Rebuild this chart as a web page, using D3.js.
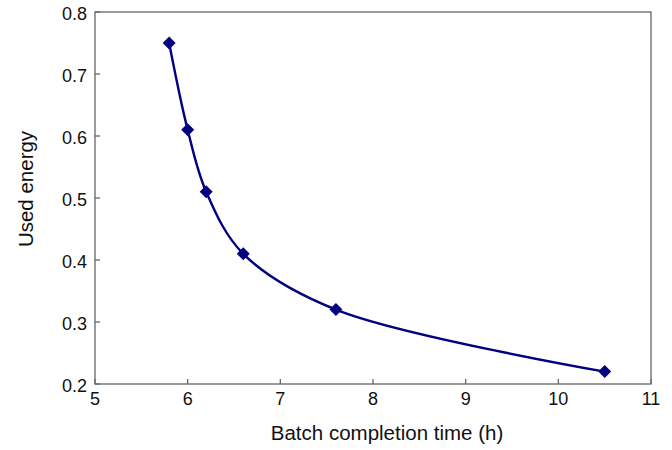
<!DOCTYPE html>
<html>
<head>
<meta charset="utf-8">
<script src="https://cdn.jsdelivr.net/npm/d3@7"></script>
<style>
  body { margin: 0; background: #fff; }
  text { font-family: "Liberation Sans", Arial, sans-serif; fill: #111; }
</style>
</head>
<body>
<svg width="672" height="450"></svg>
<script>
// data
var batchTime = [5.8, 6.0, 6.2, 6.6, 7.6, 10.5];
var usedEnergy = [0.75, 0.61, 0.51, 0.41, 0.32, 0.22];
var xTicks = [5, 6, 7, 8, 9, 10, 11];
var yTicks = [0.2, 0.3, 0.4, 0.5, 0.6, 0.7, 0.8];

var svg = d3.select("svg");
var plotL = 95, plotR = 651, plotT = 12, plotB = 384;
var axisColor = "#666";
var lineColor = "#000080";

var x = d3.scaleLinear().domain([5, 11]).range([plotL, plotR]);
var y = d3.scaleLinear().domain([0.2, 0.8]).range([plotB, plotT]);

var points = batchTime.map(function(d, i) { return [d, usedEnergy[i]]; });

// frame
svg.append("rect")
    .attr("x", plotL).attr("y", plotT)
    .attr("width", plotR - plotL).attr("height", plotB - plotT)
    .attr("fill", "none").attr("stroke", axisColor).attr("stroke-width", 1.3);

// x ticks (inward) + labels
svg.selectAll(".xt").data(xTicks).enter().append("line")
    .attr("x1", function(d) { return x(d); }).attr("x2", function(d) { return x(d); })
    .attr("y1", plotB).attr("y2", plotB - 5)
    .attr("stroke", axisColor).attr("stroke-width", 1.3);
svg.selectAll(".xl").data(xTicks).enter().append("text")
    .attr("x", function(d) { return x(d); })
    .attr("y", plotB + 21)
    .attr("text-anchor", "middle")
    .style("font-size", "18px")
    .text(function(d) { return d; });

// y ticks (inward) + labels
svg.selectAll(".yt").data(yTicks).enter().append("line")
    .attr("x1", plotL).attr("x2", plotL + 5)
    .attr("y1", function(d) { return y(d); }).attr("y2", function(d) { return y(d); })
    .attr("stroke", axisColor).attr("stroke-width", 1.3);
svg.selectAll(".yl").data(yTicks).enter().append("text")
    .attr("x", plotL - 8)
    .attr("y", function(d) { return y(d) + 8; })
    .attr("text-anchor", "end")
    .style("font-size", "18px")
    .text(function(d) { return d3.format(".1f")(d); });

// axis titles
svg.append("text")
    .attr("x", 387).attr("y", 440)
    .attr("text-anchor", "middle")
    .style("font-size", "20.5px")
    .text("Batch completion time (h)");
svg.append("text")
    .attr("transform", "translate(33,189) rotate(-90)")
    .attr("text-anchor", "middle")
    .style("font-size", "20.5px")
    .text("Used energy");

// smoothed line
var line = d3.line()
    .x(function(d) { return x(d[0]); })
    .y(function(d) { return y(d[1]); })
    .curve(d3.curveCatmullRom.alpha(0.5));

svg.append("path")
    .datum(points)
    .attr("d", line)
    .attr("fill", "none")
    .attr("stroke", lineColor)
    .attr("stroke-width", 2.4);

// diamond markers
svg.selectAll(".pt").data(points).enter().append("path")
    .attr("transform", function(d) { return "translate(" + x(d[0]) + "," + y(d[1]) + ")"; })
    .attr("d", "M0,-6.5L6.5,0L0,6.5L-6.5,0Z")
    .attr("fill", lineColor);
</script>
</body>
</html>
